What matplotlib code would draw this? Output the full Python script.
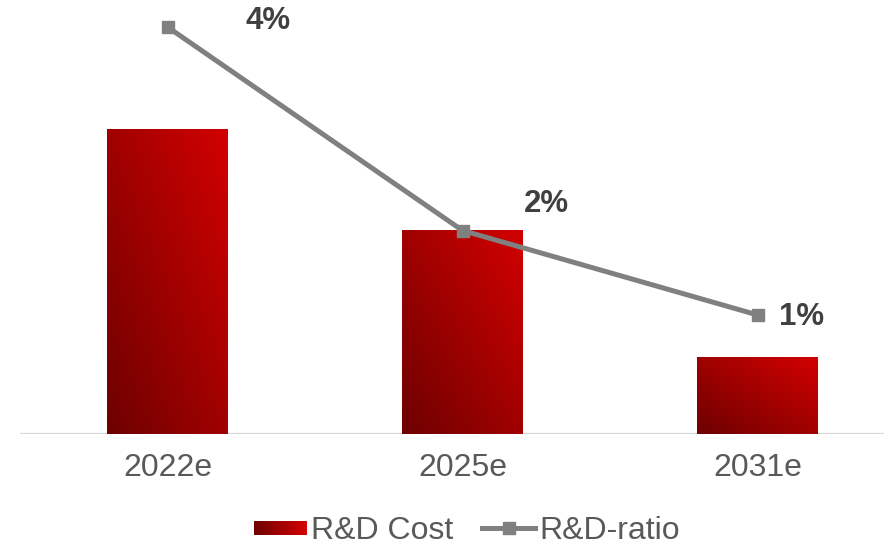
import numpy as np
import matplotlib
matplotlib.use('Agg')
import matplotlib.pyplot as plt
from matplotlib.colors import LinearSegmentedColormap
from matplotlib.patches import Rectangle, Patch
from matplotlib.lines import Line2D
from matplotlib.legend_handler import HandlerBase

plt.rcParams['font.family'] = ['Liberation Sans', 'DejaVu Sans']

# data
years = ['2022e', '2025e', '2031e']
rd_cost = [120, 80, 30]
rd_ratio = [0.040, 0.020, 0.0117]
label_offsets = [(101, 6), (84, 27), (44, -2)]  # pixels, label position relative to point

red_grad = LinearSegmentedColormap.from_list('redgrad', ['#6E0000', '#D20000'])
line_grey = '#808080'


class GradientPatchHandler(HandlerBase):
    def create_artists(self, legend, orig_handle, xdescent, ydescent,
                       width, height, fontsize, trans):
        n = 40
        h = height * 0.65
        y0 = -ydescent + (height - h) / 2
        arts = []
        for i in range(n):
            r = Rectangle((-xdescent + width * i / n, y0), width / n * 1.1, h,
                          facecolor=red_grad(i / (n - 1)), edgecolor='none',
                          transform=trans)
            arts.append(r)
        return arts


fig = plt.figure(figsize=(8.84, 5.47), dpi=100)
ax = fig.add_axes([20 / 884, 113 / 547, 864 / 884, 434 / 547])
x = np.arange(len(years))
width = 0.407

# gradient bars: dark at bottom-left, bright at top-right
for xi, h in zip(x, rd_cost):
    u = np.linspace(0, 1, 64)
    v = np.linspace(0, 1, 128)
    U, V = np.meshgrid(u, v)
    t = (U + V) / 2
    ax.imshow(red_grad(t), extent=(xi - width / 2, xi + width / 2, 0, h),
              origin='lower', aspect='auto', interpolation='bilinear', zorder=2)

ax.axhline(0, color='#D9D9D9', lw=1.6, zorder=1)
ax.set_xlim(-0.5, -0.5 + 864 / 295)
ax.set_ylim(0, 120 * 434 / 305)
ax.set_xticks(x)
ax.set_xticklabels(years, fontsize=23, color='#595959')
ax.tick_params(axis='x', length=0, pad=14)
ax.set_yticks([])
for s in ax.spines.values():
    s.set_visible(False)

ax2 = ax.twinx()
ax2.plot(x, rd_ratio, color=line_grey, lw=3.6, marker='s', markersize=8.5, zorder=3)
ax2.set_ylim(0, 0.04 * 434 / 407)
ax2.set_yticks([])
for s in ax2.spines.values():
    s.set_visible(False)

for xi, r, (dx, dy) in zip(x, rd_ratio, label_offsets):
    ax2.annotate(f'{r:.0%}', (xi, r), xytext=(dx, dy), textcoords='offset pixels',
                 ha='center', va='center', fontsize=22.5, fontweight='bold',
                 color='#404040')

handles = [Patch(facecolor='#A00000'),
           Line2D([0], [0], color=line_grey, lw=3.6, marker='s', markersize=8.5)]
fig.legend(handles, ['R&D Cost', 'R&D-ratio'], loc='center',
           bbox_to_anchor=(467 / 884, 1 - 531 / 547), ncol=2, frameon=False,
           fontsize=23, labelcolor='#595959', handlelength=1.65,
           handletextpad=0.15, columnspacing=0.9,
           handler_map={Patch: GradientPatchHandler()})

fig.savefig('out.png', dpi=100)
